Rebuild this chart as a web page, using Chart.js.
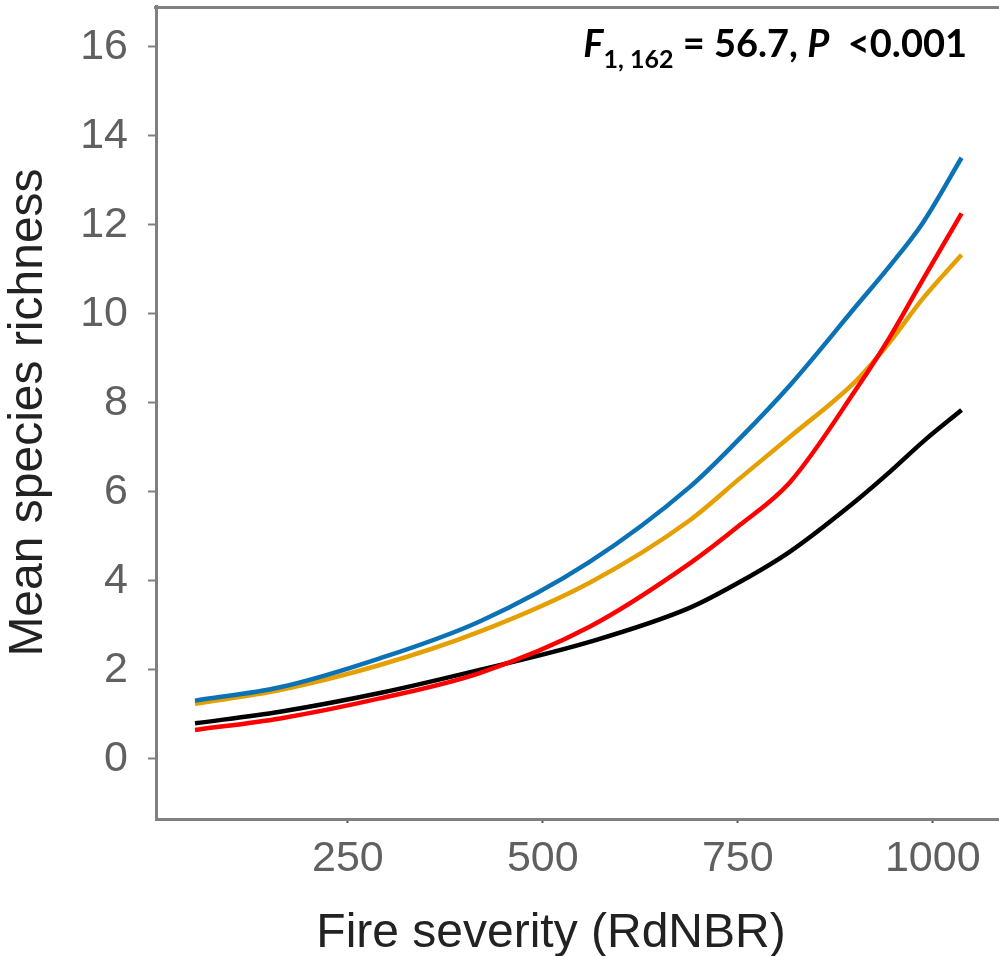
<!DOCTYPE html>
<html lang="en">
<head>
<meta charset="UTF-8">
<title>Mean species richness vs fire severity</title>
<script src="https://cdn.jsdelivr.net/npm/chart.js@4.4.1/dist/chart.umd.min.js"></script>
<style>
  html, body { margin: 0; padding: 0; background: #fff; }
  #wrap { width: 999px; height: 956px; }
</style>
</head>
<body>
<div id="wrap"><canvas id="chart"></canvas></div>
<script>
// values
var severity   = [54, 163, 291, 419, 560, 689, 753, 817, 903, 945, 987, 1037];
var blueLine   = [1.31, 1.61, 2.26, 3.09, 4.43, 6.12, 7.21, 8.40, 10.20, 11.08, 12.04, 13.51];
var orangeLine = [1.24, 1.55, 2.11, 2.86, 3.96, 5.37, 6.31, 7.24, 8.52, 9.37, 10.34, 11.33];
var redLine    = [0.65, 0.91, 1.36, 1.93, 2.97, 4.40, 5.26, 6.22, 8.34, 9.48, 10.76, 12.26];
var blackLine  = [0.80, 1.06, 1.48, 2.00, 2.63, 3.40, 3.98, 4.66, 5.82, 6.45, 7.12, 7.84];

var yTicks = [0, 2, 4, 6, 8, 10, 12, 14, 16];
var xTicks = [250, 500, 750, 1000];

var axisGray = '#808080';
var labelGray = '#606060';

function pts(ys) {
    return severity.map(function (x, i) { return {x: x, y: ys[i]}; });
}

function line(label, ys, color) {
    return {
        label: label,
        data: pts(ys),
        borderColor: color,
        borderWidth: 4.5,
        pointRadius: 0,
        fill: false,
        cubicInterpolationMode: 'monotone'
    };
}

// top frame line, x title and the F-test text
var extras = {
    id: 'extras',
    afterDraw: function (chart) {
        var ctx = chart.ctx, a = chart.chartArea;
        ctx.save();
        ctx.strokeStyle = axisGray;
        ctx.lineWidth = 3;
        ctx.beginPath();
        ctx.moveTo(a.left - 2, a.top + 1.5);
        ctx.lineTo(chart.width, a.top + 1.5);
        ctx.stroke();

        ctx.fillStyle = '#222';
        ctx.font = '48px "Liberation Sans", Arial, sans-serif';
        ctx.textAlign = 'center';
        ctx.textBaseline = 'alphabetic';
        ctx.fillText('Fire severity (RdNBR)', 551, 947);

        var parts = [
            {t: 'F', f: 'italic bold 38px Lato', dy: 0},
            {t: '1, 162', f: 'bold 25px Lato', dy: 11},
            {t: ' = 56.7, ', f: 'bold 38px Lato', dy: 0},
            {t: 'P', f: 'italic bold 38px Lato', dy: 0},
            {t: '  <0.001', f: 'bold 38px Lato', dy: 0}
        ];
        var total = 0;
        parts.forEach(function (p) { ctx.font = p.f; p.w = ctx.measureText(p.t).width; total += p.w; });
        var x = 967 - total;
        ctx.fillStyle = '#000';
        ctx.textAlign = 'left';
        parts.forEach(function (p) {
            ctx.font = p.f;
            ctx.fillText(p.t, x, 57 + p.dy);
            x += p.w;
        });
        ctx.restore();
    }
};

new Chart(document.getElementById('chart'), {
    type: 'line',
    data: {
        datasets: [
            line('Blue', blueLine, '#0a72b5'),
            line('Red', redLine, '#ff0000'),
            line('Orange', orangeLine, '#e69f00'),
            line('Black', blackLine, '#000000')
        ]
    },
    options: {
        responsive: true,
        maintainAspectRatio: false,
        animation: false,
        layout: {padding: {top: 6, left: 0, right: 0, bottom: 0}},
        plugins: {legend: {display: false}, tooltip: {enabled: false}},
        scales: {
            x: {
                type: 'linear',
                min: 4,
                max: 1085,
                afterBuildTicks: function (axis) {
                    axis.ticks = xTicks.map(function (v) { return {value: v}; });
                },
                afterFit: function (axis) {
                    axis.height = 137;
                    axis.paddingLeft = 0;
                    axis.paddingRight = 0;
                },
                border: {display: true, color: axisGray, width: 3},
                grid: {drawOnChartArea: false, drawTicks: true, tickLength: 4, tickWidth: 2, color: '#555'},
                ticks: {
                    color: labelGray,
                    padding: 10,
                    maxRotation: 0,
                    callback: function (v) { return String(v); },
                    font: {family: '"Liberation Sans", Arial, sans-serif', size: 43}
                }
            },
            y: {
                min: -1.35,
                max: 16.92,
                afterBuildTicks: function (axis) {
                    axis.ticks = yTicks.map(function (v) { return {value: v}; });
                },
                afterFit: function (axis) {
                    axis.width = 156;
                    axis.paddingTop = 0;
                    axis.paddingBottom = 0;
                },
                border: {display: true, color: axisGray, width: 3},
                grid: {drawOnChartArea: false, drawTicks: true, tickLength: 8, tickWidth: 2, color: axisGray},
                ticks: {
                    color: labelGray,
                    padding: 20,
                    callback: function (v) { return String(v); },
                    font: {family: '"Liberation Sans", Arial, sans-serif', size: 43}
                },
                title: {
                    display: true,
                    text: 'Mean species richness',
                    color: '#222',
                    padding: {top: 0},
                    font: {family: '"Liberation Sans", Arial, sans-serif', size: 48, weight: 'normal'}
                }
            }
        }
    },
    plugins: [extras]
});
</script>
</body>
</html>
